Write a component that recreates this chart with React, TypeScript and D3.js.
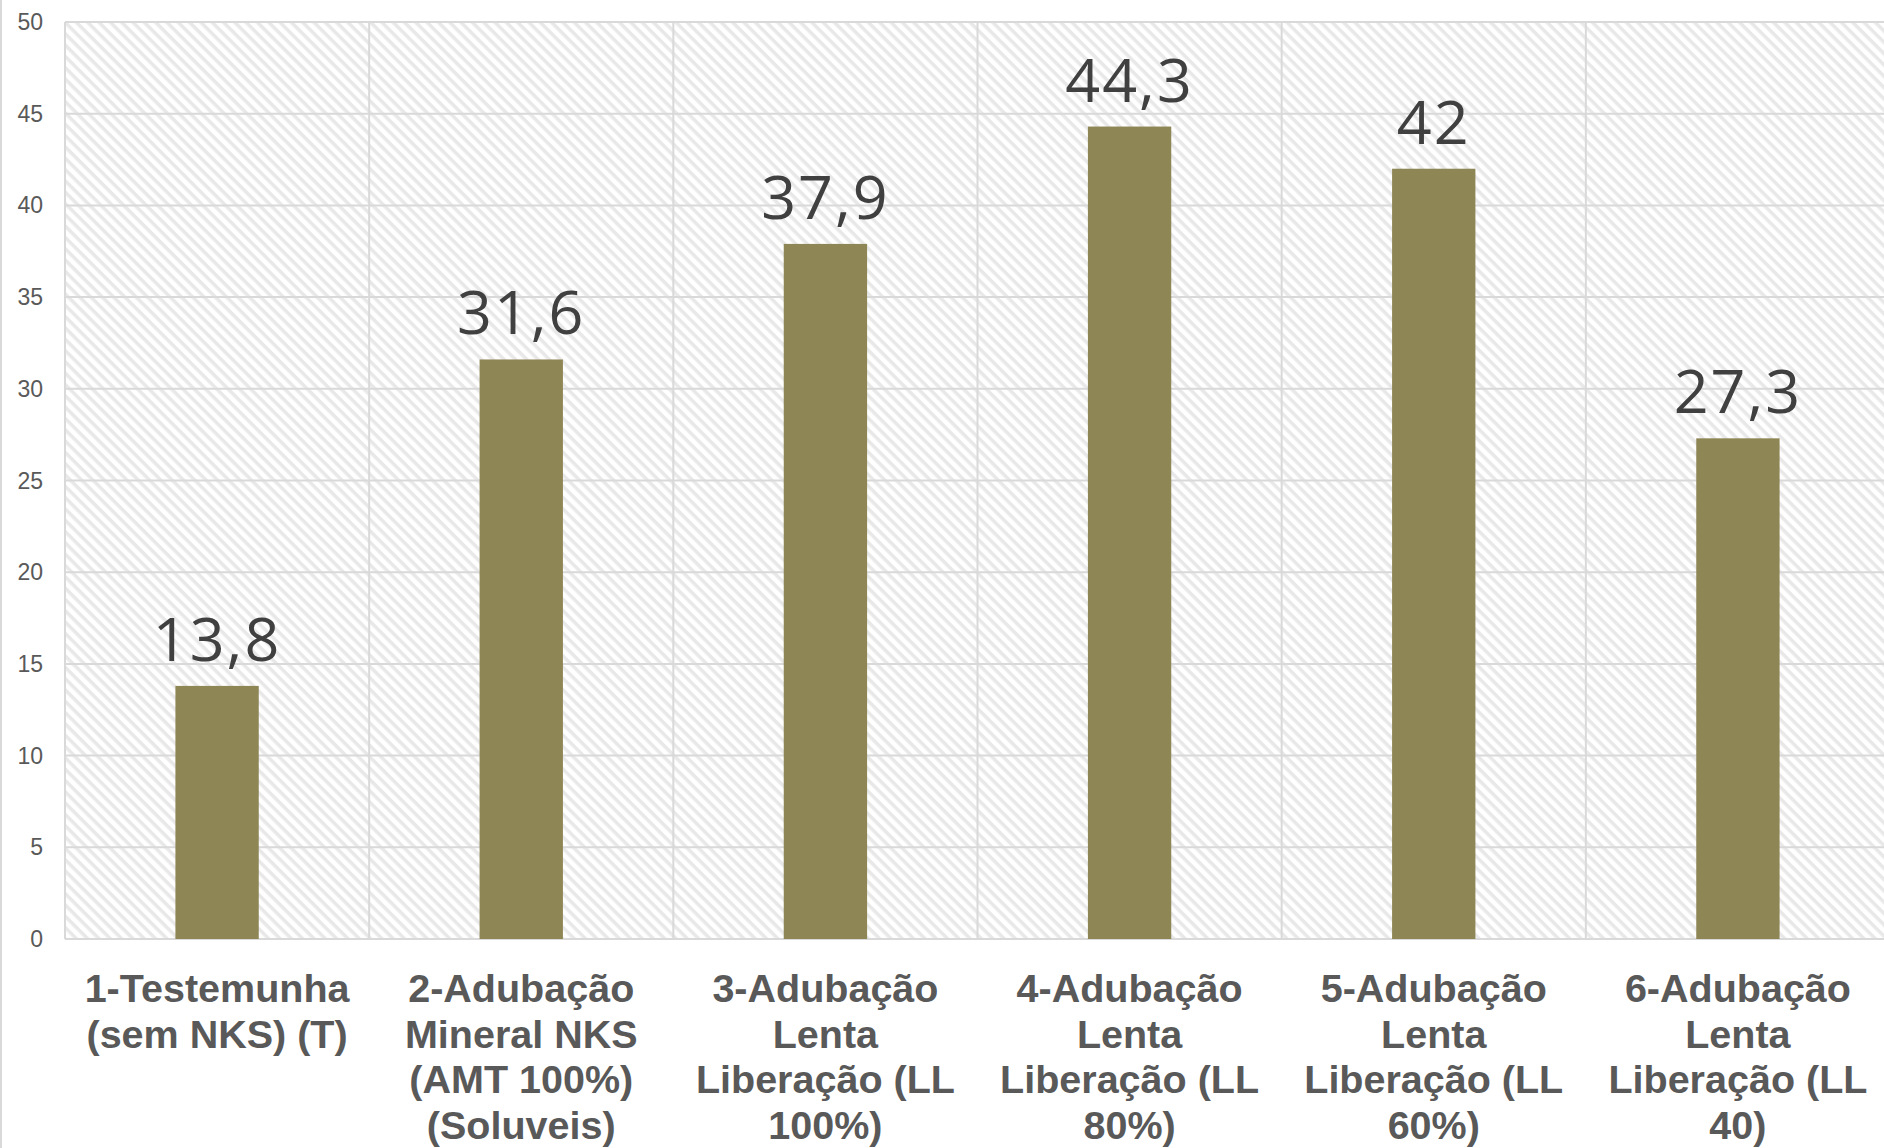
import * as d3 from "d3";

const categories = [
  ["1-Testemunha", "(sem NKS) (T)"],
  ["2-Adubação", "Mineral NKS", "(AMT 100%)", "(Soluveis)"],
  ["3-Adubação", "Lenta", "Liberação (LL", "100%)"],
  ["4-Adubação", "Lenta", "Liberação (LL", "80%)"],
  ["5-Adubação", "Lenta", "Liberação (LL", "60%)"],
  ["6-Adubação", "Lenta", "Liberação (LL", "40)"],
];
const values = [13.8, 31.6, 37.9, 44.3, 42, 27.3];
const valueLabels = ["13,8", "31,6", "37,9", "44,3", "42", "27,3"];
const yTicks = [0, 5, 10, 15, 20, 25, 30, 35, 40, 45, 50];

const App = () => {
  const width = 1884;
  const height = 1148;
  const left = 65;
  const right = 1890;
  const top = 22;
  const bottom = 939;

  const keys = categories.map((_, i) => String(i));
  const x = d3.scaleBand().domain(keys).range([left, right]).paddingInner(0).paddingOuter(0);
  const y = d3.scaleLinear().domain([0, 50]).range([bottom, top]);
  const bw = x.bandwidth() * 0.274;

  return (
    <svg
      width={width}
      height={height}
      style={{ position: "absolute", left: 0, top: 0, background: "#fff" }}
    >
      <defs>
        <pattern
          id="hatch"
          width="8"
          height="8"
          patternUnits="userSpaceOnUse"
          patternTransform="rotate(45)"
        >
          <rect width="8" height="8" fill="#ffffff" />
          <rect width="8" height="3.5" fill="#e8e8e8" />
        </pattern>
      </defs>
      <line x1={1} x2={1} y1={0} y2={height} stroke="#d9d9d9" strokeWidth={2} />
      <rect x={left} y={top} width={right - left} height={bottom - top} fill="url(#hatch)" />
      {yTicks.map(t => (
        <g key={t}>
          <line x1={left} x2={right} y1={y(t)} y2={y(t)} stroke="#d9d9d9" strokeWidth={2} />
          <text
            x={43}
            y={y(t)}
            dy="0.35em"
            textAnchor="end"
            fontFamily="Liberation Sans, Arial, sans-serif"
            fontSize={23}
            fill="#595959"
          >
            {t}
          </text>
        </g>
      ))}
      {keys.map(k => (
        <line
          key={"v" + k}
          x1={x(k)}
          x2={x(k)}
          y1={top}
          y2={bottom}
          stroke="#d9d9d9"
          strokeWidth={2}
        />
      ))}
      {values.map((v, i) => {
        const cx = x(keys[i]) + x.bandwidth() / 2;
        return (
          <g key={"b" + i}>
            <rect x={cx - bw / 2} y={y(v)} width={bw} height={y(0) - y(v)} fill="#8f8656" />
            <text
              x={cx}
              y={y(v) - 25}
              textAnchor="middle"
              fontFamily="Open Sans, sans-serif"
              fontSize={61}
              letterSpacing={2}
              fill="#404040"
            >
              {valueLabels[i]}
            </text>
          </g>
        );
      })}
      {categories.map((lines, i) => {
        const cx = x(keys[i]) + x.bandwidth() / 2;
        return (
          <text
            key={"c" + i}
            textAnchor="middle"
            fontFamily="Liberation Sans, Arial, sans-serif"
            fontWeight="bold"
            fontSize={39.5}
            fill="#595959"
          >
            {lines.map((l, j) => (
              <tspan key={j} x={cx} y={1002 + j * 45.5}>
                {l}
              </tspan>
            ))}
          </text>
        );
      })}
    </svg>
  );
};

export default App;
